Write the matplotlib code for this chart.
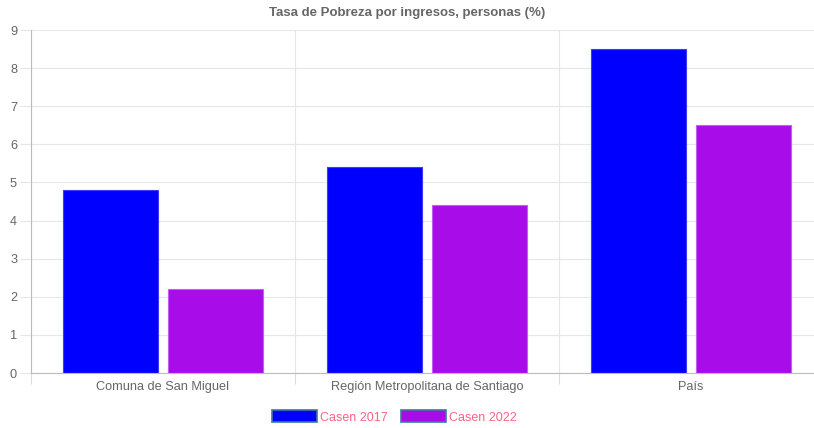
import matplotlib
matplotlib.use("Agg")
import matplotlib.pyplot as plt
from matplotlib.patches import Patch
import numpy as np

categories = ["Comuna de San Miguel", "Región Metropolitana de Santiago", "País"]
series_names = ["Casen 2017", "Casen 2022"]
casen_2017 = [4.8, 5.4, 8.5]
casen_2022 = [2.2, 4.4, 6.5]
title = "Tasa de Pobreza por ingresos, personas (%)"

colors = ["#0000ff", "#a80ce8"]
edges = ["#3b3bff", "#c05ef0"]

plt.rcParams['font.family'] = ['Liberation Sans', 'DejaVu Sans']

fig = plt.figure(figsize=(8.14, 4.28), dpi=100)
ax = fig.add_axes([31/814, (428-373)/428, 792/814, 343/428])

x = np.arange(len(categories))
w = 0.36
for i, (vals, name) in enumerate(zip([casen_2017, casen_2022], series_names)):
    off = -0.2 if i == 0 else 0.2
    ax.bar(x + off, vals, width=w, color=colors[i], edgecolor=edges[i],
           linewidth=0.8, label=name, zorder=3)

ax.set_xlim(-0.5, 2.5)
ax.set_ylim(0, 9)
ax.set_yticks(range(0, 10))
ax.set_xticks(x)
ax.set_xticklabels(categories)
ax.set_xticks([-0.5, 0.5, 1.5, 2.5], minor=True)

ax.tick_params(axis='x', which='major', length=0, pad=6, labelsize=9.2, labelcolor='#666666')
ax.tick_params(axis='x', which='minor', length=8, color='#dddddd', width=0.8)
ax.tick_params(axis='y', length=8, color='#e6e6e6', width=0.8, pad=2, labelsize=9.2, labelcolor='#666666')

ax.grid(axis='y', color='#e6e6e6', linewidth=0.8, zorder=0)
ax.grid(axis='x', which='minor', color='#e6e6e6', linewidth=0.8, zorder=0)

for s in ['top', 'right']:
    ax.spines[s].set_visible(False)
ax.spines['left'].set_color('#bbbbbb')
ax.spines['left'].set_linewidth(0.8)
ax.spines['bottom'].set_color('#bbbbbb')
ax.spines['bottom'].set_linewidth(0.8)
ax.spines['left'].set_zorder(4)
ax.spines['bottom'].set_zorder(4)

fig.text(0.5, 1 - 13/428, title, ha='center', va='center', fontsize=9.5,
         fontweight='bold', color='#666666')

handles = [Patch(facecolor=colors[i], edgecolor='#3d7aa0', linewidth=1.2) for i in range(2)]
leg = fig.legend(handles, series_names, loc='center', bbox_to_anchor=(394.5/814, 1 - 417/428),
                 ncol=2, frameon=False, fontsize=9, handlelength=3.6, handleheight=1.1,
                 handletextpad=0.25, columnspacing=1.0, labelcolor='#ff6384')

fig.savefig("out.png", dpi=100)
